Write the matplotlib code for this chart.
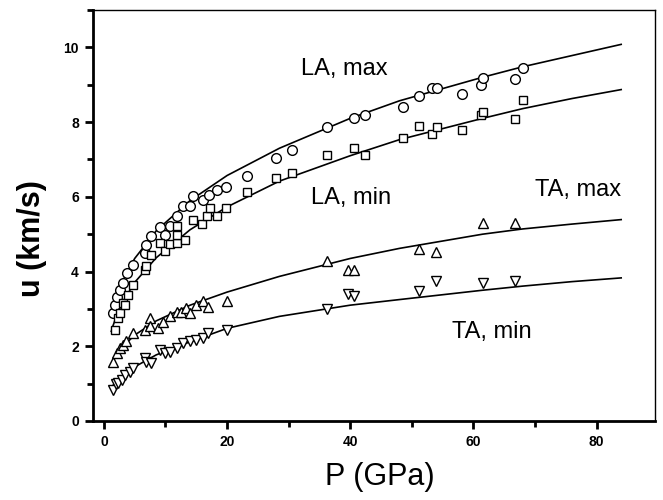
import numpy as np
import matplotlib
matplotlib.use('Agg')
import matplotlib.pyplot as plt
from matplotlib.ticker import MultipleLocator

plt.rcParams['font.family'] = ['Liberation Sans', 'DejaVu Sans']

# measured points, P (GPa) and u (km/s)
la_max_p = [1.5, 1.8, 2.1, 2.6, 3.1, 3.8, 4.8, 6.7, 6.9, 7.7, 9.1, 9.9, 10.7, 11.8,
            12.8, 14.0, 14.5, 16.1, 17.0, 18.3, 19.9, 23.2, 27.9, 30.6, 36.3, 40.6,
            42.4, 48.5, 51.2, 53.2, 54.1, 58.1, 61.2, 61.5, 66.7, 68.1]
la_max_u = [2.89, 3.11, 3.33, 3.51, 3.69, 3.96, 4.18, 4.50, 4.72, 4.94, 5.19, 4.99, 5.21, 5.48,
            5.76, 5.76, 6.01, 5.92, 6.04, 6.17, 6.25, 6.55, 7.04, 7.24, 7.87, 8.10,
            8.19, 8.41, 8.70, 8.90, 8.90, 8.74, 8.98, 9.19, 9.14, 9.44]

la_min_p = [1.8, 2.3, 2.6, 3.1, 3.4, 3.9, 4.8, 6.7, 6.9, 7.7, 9.1, 9.9, 10.7, 11.8,
            11.9, 11.9, 13.1, 14.5, 16.0, 16.8, 17.3, 18.3, 19.9, 23.2, 27.9, 30.6,
            36.3, 40.6, 42.4, 48.5, 51.2, 53.3, 54.1, 58.1, 61.2, 61.6, 66.7, 68.1]
la_min_u = [2.44, 2.75, 2.90, 3.16, 3.11, 3.38, 3.65, 4.05, 4.14, 4.45, 4.76, 4.54, 4.75, 4.76,
            4.99, 5.21, 4.85, 5.39, 5.28, 5.48, 5.70, 5.48, 5.70, 6.12, 6.51, 6.64,
            7.13, 7.31, 7.11, 7.58, 7.89, 7.67, 7.87, 7.78, 8.18, 8.28, 8.07, 8.59]

ta_max_p = [1.5, 2.1, 2.6, 3.1, 3.6, 4.8, 6.7, 7.5, 7.5, 8.8, 9.6, 10.7, 11.8, 12.6,
            13.4, 14.0, 15.0, 16.1, 16.9, 20.0, 36.3, 39.7, 40.6, 51.1, 54.0, 61.5, 66.7]
ta_max_u = [1.59, 1.81, 1.95, 2.04, 2.13, 2.35, 2.44, 2.75, 2.53, 2.48, 2.66, 2.80, 2.91, 2.91,
            3.02, 2.89, 3.11, 3.20, 3.06, 3.20, 4.27, 4.03, 4.03, 4.60, 4.52, 5.30, 5.30]

ta_min_p = [1.5, 1.9, 2.3, 2.9, 3.4, 4.2, 4.8, 6.7, 6.9, 7.7, 9.1, 9.9, 10.7, 11.8,
            12.9, 14.0, 15.0, 16.1, 16.9, 20.0, 36.3, 39.7, 40.6, 51.1, 54.0, 61.5, 66.7]
ta_min_u = [0.83, 0.98, 1.01, 1.10, 1.23, 1.32, 1.41, 1.68, 1.59, 1.55, 1.90, 1.81, 1.86, 1.95,
            2.08, 2.13, 2.17, 2.22, 2.35, 2.44, 2.99, 3.40, 3.35, 3.47, 3.76, 3.69, 3.76]

# fitted curves
fit_p = [1.2, 1.5, 2, 3, 5, 8.5, 14, 20, 28.5, 40, 48, 61.5, 68, 76, 84]
la_max_fit = [2.85, 3.04, 3.31, 3.73, 4.35, 5.09, 5.9, 6.57, 7.3, 8.1, 8.57, 9.2, 9.48, 9.78, 10.08]
la_min_fit = [2.4, 2.56, 2.79, 3.17, 3.71, 4.37, 5.12, 5.73, 6.42, 7.1, 7.53, 8.1, 8.36, 8.63, 8.87]
ta_max_fit = [1.5, 1.6, 1.75, 1.98, 2.3, 2.68, 3.1, 3.45, 3.87, 4.35, 4.62, 5.0, 5.14, 5.27, 5.39]
ta_min_fit = [0.9, 0.96, 1.05, 1.2, 1.45, 1.77, 2.12, 2.48, 2.8, 3.1, 3.25, 3.5, 3.61, 3.73, 3.83]

fig = plt.figure(figsize=(6.63, 5.0), dpi=100)
ax = fig.add_axes([0.140, 0.158, 0.848, 0.822])

for u in [la_max_fit, la_min_fit, ta_max_fit, ta_min_fit]:
    ax.plot(fit_p, u, color='black', lw=1.2)

mk = dict(linestyle='none', markerfacecolor='white', markeredgecolor='black', markeredgewidth=1.0)
ax.plot(la_max_p, la_max_u, marker='o', markersize=7, **mk)
ax.plot(la_min_p, la_min_u, marker='s', markersize=6, **mk)
ax.plot(ta_max_p, ta_max_u, marker='^', markersize=7, **mk)
ax.plot(ta_min_p, ta_min_u, marker='v', markersize=7, **mk)

ax.text(39, 9.41, 'LA, max', fontsize=17, ha='center', va='center')
ax.text(40.1, 5.98, 'LA, min', fontsize=17, ha='center', va='center')
ax.text(77, 6.17, 'TA, max', fontsize=17, ha='center', va='center')
ax.text(63, 2.39, 'TA, min', fontsize=17, ha='center', va='center')

ax.set_xlim(-1.8, 89.5)
ax.set_ylim(0, 11)
ax.xaxis.set_major_locator(MultipleLocator(20))
ax.xaxis.set_minor_locator(MultipleLocator(10))
ax.yaxis.set_major_locator(MultipleLocator(2))
ax.yaxis.set_minor_locator(MultipleLocator(1))
ax.tick_params(which='both', direction='out', top=False, right=False, width=2)
ax.tick_params(which='major', length=6, labelsize=10, pad=4)
ax.tick_params(which='minor', length=4)
for lab in ax.get_xticklabels() + ax.get_yticklabels():
    lab.set_fontweight('bold')
for s in ['left', 'bottom']:
    ax.spines[s].set_linewidth(2)
for s in ['top', 'right']:
    ax.spines[s].set_linewidth(1)

ax.set_xlabel('P (GPa)', fontsize=22)
ax.set_ylabel('u (km/s)', fontsize=22, fontweight='bold')
ax.xaxis.set_label_coords(0.511, -0.100)
ax.yaxis.set_label_coords(-0.082, 0.445)

fig.savefig('out.png', dpi=100)
